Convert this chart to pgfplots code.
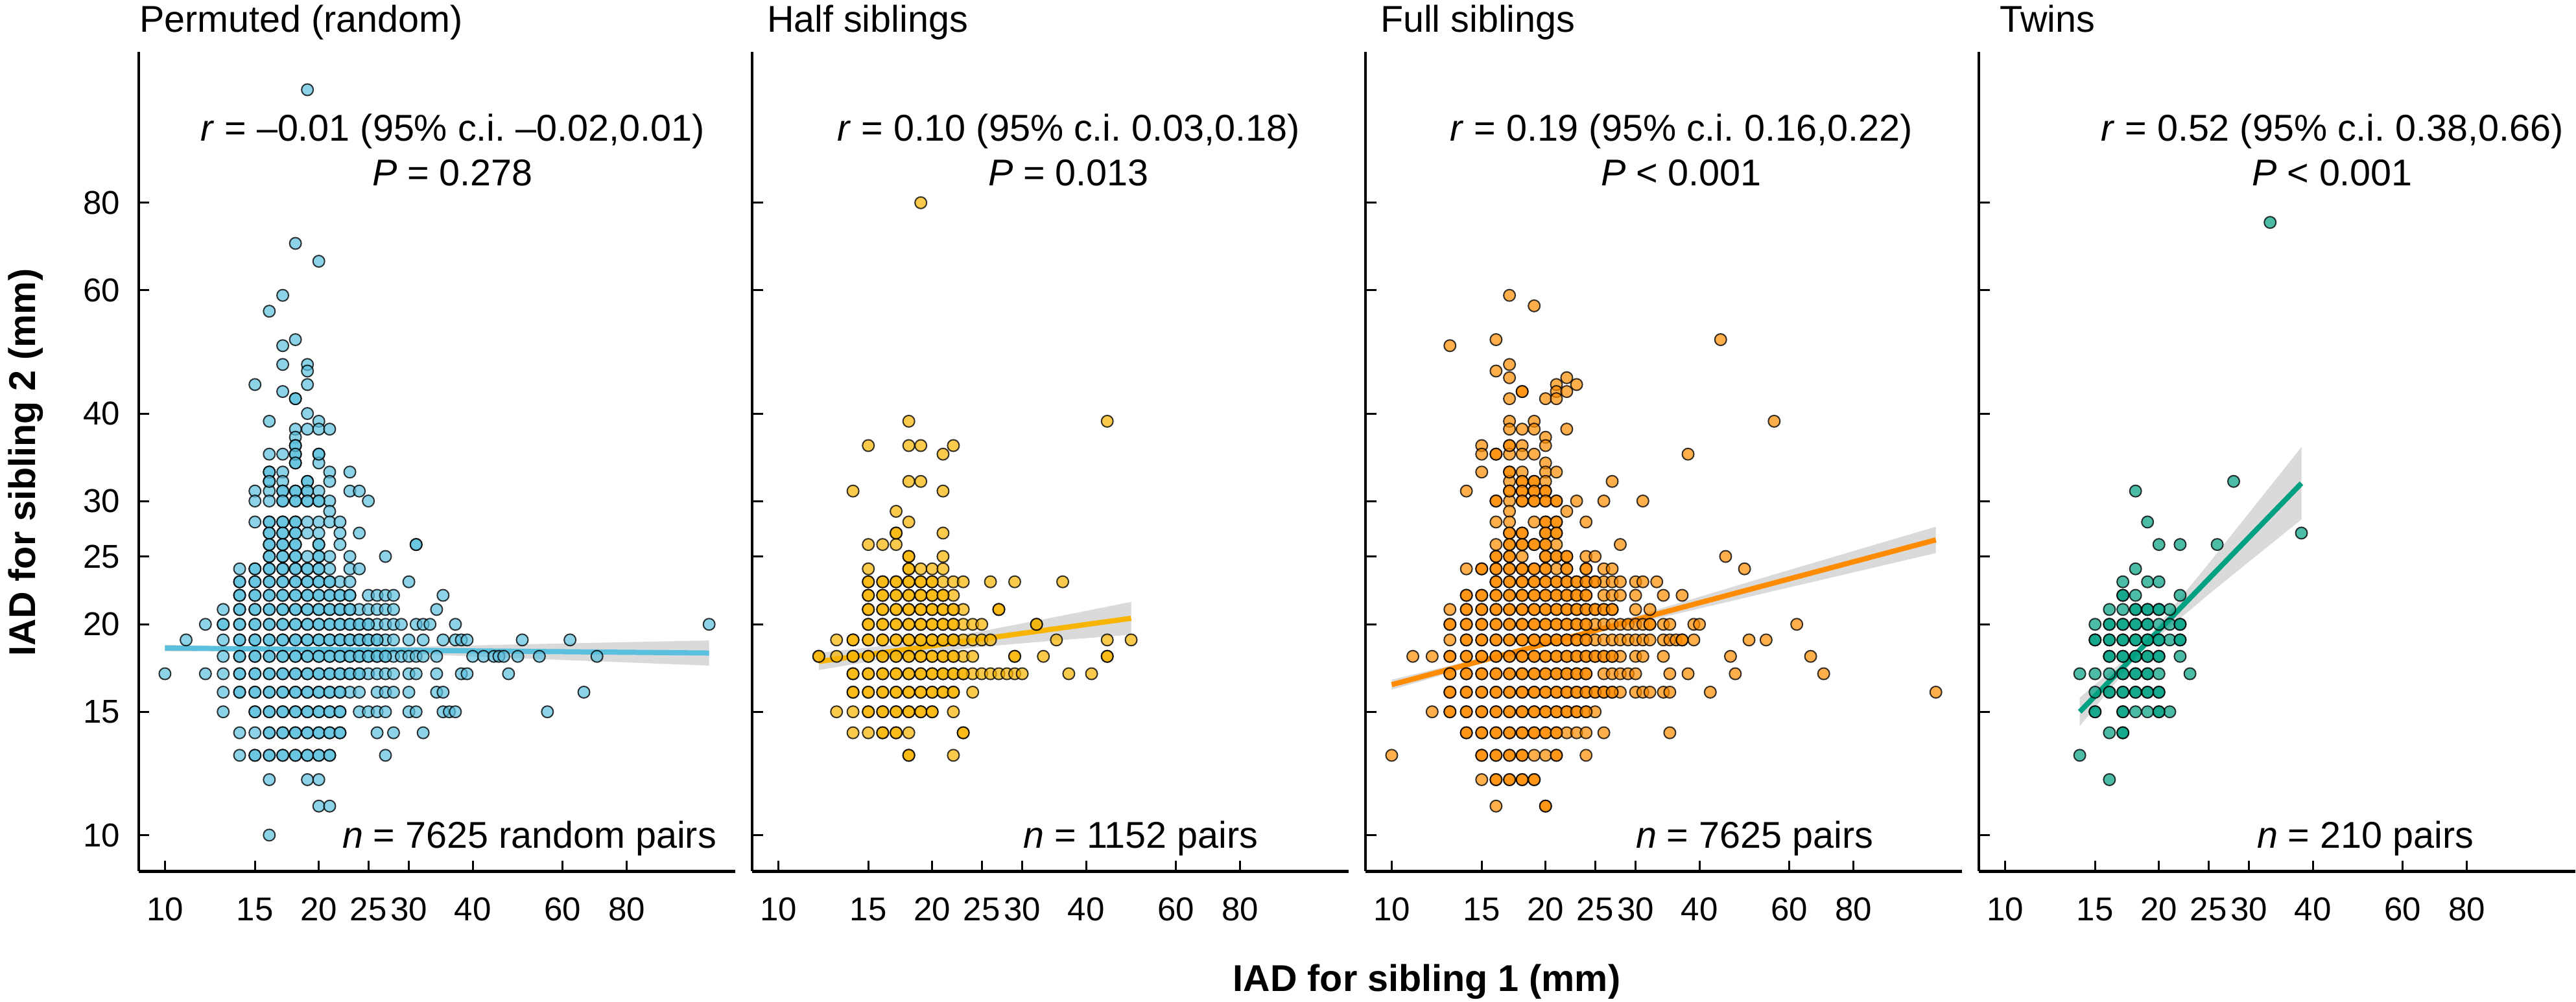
\documentclass[border=0pt]{standalone}
\usepackage{fontspec}
\setmainfont{Liberation Sans}
\usepackage{pgfplots}
\pgfplotsset{compat=1.18}
\frenchspacing

\definecolor{cyanC}{RGB}{91,192,222}
\definecolor{amberC}{RGB}{247,180,0}
\definecolor{orangeC}{RGB}{255,140,0}
\definecolor{tealC}{RGB}{0,160,130}
\definecolor{bandC}{RGB}{205,205,205}

\newcommand{\mytxt}{\fontsize{11.5}{13.8}\selectfont}

\tikzset{
  myPts/.style={only marks, mark=*, mark size=1.8pt,
    mark options={fill=#1, fill opacity=0.7, draw=black, draw opacity=0.78, line width=0.4pt}},
  myBand/.style={fill=bandC, fill opacity=0.75, draw=none},
  myLine/.style={draw=#1, line width=1.6pt},
}

\begin{document}
\begin{tikzpicture}

% ---------------- Panel 1: Permuted (random)
\begin{axis}[at={(42.8pt,40.14pt)}, anchor=south west,
    scale only axis, width=184pt, height=252.86pt,
    xmode=log, ymode=log,
    xmin=8.888, xmax=130.5, ymin=8.878, ymax=131.4,
    axis x line*=bottom, axis y line*=left,
    axis line style={line width=0.9pt},
    tick align=inside, major tick length=3.3pt,
    tick style={black, line width=0.6pt},
    xtick={10,15,20,25,30,40,60,80}, xticklabels={10,15,20,25,30,40,60,80},
    ytick={10,15,20,25,30,40,60,80}, yticklabels={10,15,20,25,30,40,60,80},
    minor xtick={}, minor ytick={},
    tick label style={font=\fontsize{10.2}{12}\selectfont},
    xticklabel style={anchor=base, yshift=-15.2pt},
    yticklabel style={anchor=east, xshift=-2.3pt}]
\addplot[myPts=cyanC] coordinates {
(19,116) (18,70) (20,66) (17,59) (16,56) (18,51) (17,50) (17,47) (19,47) (19,46) (15,44) (19,44) (17,43) (18,42) (19,40) (16,39) (20,39) (18,38) (19,38) (20,38) (21,38) (18,37) (18,36) (16,35) (17,35) (18,35) (20,35) (18,34) (20,34) (16,33) (17,33) (21,33) (23,33) (16,32) (17,32) (19,32) (21,32)
(15,31) (16,31) (17,31) (18,31) (19,31) (20,31) (23,31) (24,31)
(15,30) (16,30) (17,30) (18,30) (19,30) (20,30) (21,30) (25,30)
(21,29)
(15,28) (16,28) (17,28) (18,28) (19,28) (20,28) (21,28) (22,28)
(16,27) (17,27) (18,27) (19,27) (20,27) (22,27) (24,27)
(16,26) (17,26) (18,26) (20,26) (22,26) (31,26)
(16,25) (17,25) (18,25) (19,25) (20,25) (21,25) (23,25) (27,25)
(14,24) (15,24) (16,24) (17,24) (18,24) (19,24) (20,24) (21,24) (23,24) (24,24)
(14,23) (15,23) (16,23) (17,23) (18,23) (19,23) (20,23) (21,23) (22,23) (23,23) (30,23)
(14,22) (15,22) (16,22) (17,22) (18,22) (19,22) (20,22) (21,22) (22,22) (23,22) (25,22) (26,22) (27,22) (28,22) (35,22)
(13,21) (14,21) (15,21) (16,21) (17,21) (18,21) (19,21) (20,21) (21,21) (22,21) (23,21) (24,21) (25,21) (26,21) (27,21) (28,21) (34,21)
(12,20) (13,20) (14,20) (15,20) (16,20) (17,20) (18,20) (19,20) (20,20) (21,20) (22,20) (23,20) (24,20) (25,20) (26,20) (27,20) (28,20) (29,20) (31,20) (32,20) (33,20) (37,20) (116,20)
(11,19) (13,19) (14,19) (15,19) (16,19) (17,19) (18,19) (19,19) (20,19) (21,19) (22,19) (23,19) (24,19) (25,19) (26,19) (27,19) (28,19) (30,19) (32,19) (35,19) (37,19) (38,19) (39,19) (50,19) (62,19)
(13,18) (14,18) (15,18) (16,18) (17,18) (18,18) (19,18) (20,18) (21,18) (22,18) (23,18) (24,18) (25,18) (26,18) (27,18) (28,18) (29,18) (30,18) (31,18) (32,18) (34,18) (40,18) (42,18) (44,18) (45,18) (46,18) (49,18) (54,18) (70,18)
(10,17) (12,17) (13,17) (14,17) (15,17) (16,17) (17,17) (18,17) (19,17) (20,17) (21,17) (22,17) (23,17) (24,17) (25,17) (26,17) (27,17) (28,17) (30,17) (31,17) (34,17) (38,17) (39,17) (47,17)
(13,16) (14,16) (15,16) (16,16) (17,16) (18,16) (19,16) (20,16) (21,16) (22,16) (23,16) (24,16) (26,16) (27,16) (28,16) (30,16) (34,16) (35,16) (66,16)
(13,15) (15,15) (16,15) (17,15) (18,15) (19,15) (20,15) (21,15) (22,15) (24,15) (25,15) (26,15) (27,15) (30,15) (31,15) (35,15) (36,15) (37,15) (56,15)
(14,14) (15,14) (16,14) (17,14) (18,14) (19,14) (20,14) (21,14) (22,14) (26,14) (28,14) (32,14)
(14,13) (15,13) (16,13) (17,13) (18,13) (19,13) (20,13) (21,13) (27,13)
(16,12) (19,12) (20,12)
(20,11) (21,11)
(16,10)
};
\addplot[myPts=cyanC] coordinates {
(18,42) (18,36) (18,35) (20,35) (18,34) (16,33) (16,32) (19,32) (31,26)
(17,31) (18,31) (19,31)
(17,30) (18,30) (19,30) (20,30)
(16,28) (17,28) (18,28)
(16,27) (17,27) (18,27)
(16,26) (17,26) (18,26) (20,26)
(16,25) (17,25) (18,25) (20,25)
(15,24) (16,24) (17,24) (18,24) (19,24) (20,24)
(14,23) (15,23) (16,23) (17,23) (18,23) (19,23) (20,23) (21,23)
(14,22) (15,22) (16,22) (17,22) (18,22) (19,22) (20,22) (21,22) (22,22) (23,22)
(14,21) (15,21) (16,21) (17,21) (18,21) (19,21) (20,21) (21,21) (22,21) (23,21)
(13,20) (14,20) (15,20) (16,20) (17,20) (18,20) (19,20) (20,20) (21,20) (22,20) (23,20) (24,20) (25,20)
(14,19) (15,19) (16,19) (17,19) (18,19) (19,19) (20,19) (21,19) (22,19) (23,19) (24,19) (25,19) (26,19)
(14,18) (15,18) (16,18) (17,18) (18,18) (19,18) (20,18) (21,18) (22,18) (23,18) (24,18) (25,18) (26,18) (27,18)
(14,17) (15,17) (16,17) (17,17) (18,17) (19,17) (20,17) (21,17) (22,17) (23,17) (24,17)
(14,16) (15,16) (16,16) (17,16) (18,16) (19,16) (20,16) (21,16) (22,16)
(15,15) (16,15) (17,15) (18,15) (19,15) (20,15) (21,15) (22,15)
(16,14) (17,14) (18,14) (19,14) (20,14) (21,14) (22,14)
(15,13) (16,13) (17,13) (18,13) (19,13) (20,13) (21,13)
};
\addplot[myBand] coordinates {(10,18.70) (18,18.51) (30,18.57) (50,18.73) (116,18.97) (116,17.46) (50,17.88) (30,18.15) (18,18.34) (10,18.30)};
\addplot[myLine=cyanC] coordinates {(10,18.5) (116,18.2)};
\end{axis}

% ---------------- Panel 2: Half siblings
\begin{axis}[at={(232pt,40.14pt)}, anchor=south west,
    scale only axis, width=184pt, height=252.86pt,
    xmode=log, ymode=log,
    xmin=8.888, xmax=130.5, ymin=8.878, ymax=131.4,
    axis x line*=bottom, axis y line*=left,
    axis line style={line width=0.9pt},
    tick align=inside, major tick length=3.3pt,
    tick style={black, line width=0.6pt},
    xtick={10,15,20,25,30,40,60,80}, xticklabels={10,15,20,25,30,40,60,80},
    ytick={10,15,20,25,30,40,60,80}, yticklabels={},
    minor xtick={}, minor ytick={},
    tick label style={font=\fontsize{10.2}{12}\selectfont},
    xticklabel style={anchor=base, yshift=-15.2pt}]
\addplot[myPts=amberC] coordinates {
(19,80) (18,39) (44,39) (15,36) (18,36) (19,36) (22,36) (21,35) (18,32) (19,32) (14,31) (21,31) (17,29) (18,28) (17,27) (21,27) (15,26) (16,26) (17,26) (18,25) (21,25) (15,24) (18,24) (19,24) (20,24) (21,24)
(15,23) (16,23) (17,23) (18,23) (19,23) (20,23) (21,23) (22,23) (23,23) (26,23) (29,23) (36,23)
(15,22) (16,22) (17,22) (18,22) (19,22) (20,22) (21,22) (22,22)
(15,21) (16,21) (17,21) (18,21) (19,21) (20,21) (21,21) (22,21) (23,21) (27,21)
(15,20) (16,20) (17,20) (18,20) (19,20) (20,20) (21,20) (22,20) (23,20) (24,20) (25,20) (32,20)
(13,19) (14,19) (15,19) (16,19) (17,19) (18,19) (19,19) (20,19) (21,19) (22,19) (23,19) (24,19) (25,19) (26,19) (35,19) (44,19) (49,19)
(12,18) (13,18) (14,18) (15,18) (16,18) (17,18) (18,18) (19,18) (20,18) (21,18) (22,18) (23,18) (24,18) (29,18) (33,18) (44,18)
(14,17) (15,17) (16,17) (17,17) (18,17) (19,17) (20,17) (21,17) (22,17) (23,17) (24,17) (25,17) (26,17) (27,17) (28,17) (29,17) (30,17) (37,17) (41,17)
(14,16) (15,16) (16,16) (17,16) (18,16) (19,16) (20,16) (21,16) (22,16) (24,16)
(13,15) (14,15) (15,15) (16,15) (17,15) (18,15) (19,15) (20,15) (22,15)
(14,14) (15,14) (16,14) (17,14) (18,14) (23,14)
(18,13) (22,13)
};
\addplot[myPts=amberC] coordinates {
(17,27) (18,25) (18,24)
(15,23) (16,23) (17,23) (18,23) (19,23) (20,23)
(15,22) (16,22) (17,22) (18,22) (19,22) (20,22) (21,22)
(15,21) (16,21) (17,21) (18,21) (19,21) (20,21) (21,21) (22,21) (27,21)
(15,20) (16,20) (17,20) (18,20) (19,20) (20,20) (21,20) (22,20) (32,20)
(14,19) (15,19) (16,19) (17,19) (18,19) (19,19) (20,19) (21,19) (22,19)
(12,18) (14,18) (15,18) (16,18) (17,18) (18,18) (19,18) (20,18) (21,18) (22,18) (29,18) (44,18)
(14,17) (15,17) (16,17) (17,17) (18,17) (19,17) (20,17) (21,17) (22,17) (23,17)
(14,16) (15,16) (16,16) (17,16) (18,16) (19,16) (20,16) (21,16) (22,16)
(15,15) (16,15) (17,15) (18,15) (19,15) (20,15)
(16,14) (17,14) (23,14) (18,13)
};
\addplot[myBand] coordinates {(12,18.21) (18,18.80) (25,19.55) (35,20.50) (49,21.53) (49,19.33) (35,18.97) (25,18.58) (18,18.08) (12,17.21)};
\addplot[myLine=amberC] coordinates {(12,17.7) (49,20.4)};
\end{axis}

% ---------------- Panel 3: Full siblings
\begin{axis}[at={(421.2pt,40.14pt)}, anchor=south west,
    scale only axis, width=184pt, height=252.86pt,
    xmode=log, ymode=log,
    xmin=8.888, xmax=130.5, ymin=8.878, ymax=131.4,
    axis x line*=bottom, axis y line*=left,
    axis line style={line width=0.9pt},
    tick align=inside, major tick length=3.3pt,
    tick style={black, line width=0.6pt},
    xtick={10,15,20,25,30,40,60,80}, xticklabels={10,15,20,25,30,40,60,80},
    ytick={10,15,20,25,30,40,60,80}, yticklabels={},
    minor xtick={}, minor ytick={},
    tick label style={font=\fontsize{10.2}{12}\selectfont},
    xticklabel style={anchor=base, yshift=-15.2pt}]
\addplot[myPts=orangeC] coordinates {
(17,59) (19,57) (16,51) (13,50) (44,51) (17,47) (16,46) (17,45) (22,45) (21,44) (23,44) (18,43) (21,43) (22,43) (17,42) (20,42) (21,42) (17,39) (19,39) (56,39) (17,38) (18,38) (19,38) (22,38) (20,37) (15,36) (17,36) (18,36) (20,36) (15,35) (16,35) (17,35) (18,35) (19,35) (38,35) (20,34) (15,33) (17,33) (18,33) (20,33) (21,33) (17,32) (18,32) (19,32) (20,32) (27,32) (14,31) (17,31) (18,31) (19,31) (20,31)
(16,30) (17,30) (18,30) (19,30) (20,30) (21,30) (23,30) (26,30) (31,30)
(17,29) (22,29)
(16,28) (17,28) (19,28) (20,28) (21,28) (24,28)
(17,27) (18,27) (20,27) (21,27)
(16,26) (17,26) (18,26) (19,26) (20,26) (21,26) (28,26)
(16,25) (17,25) (18,25) (20,25) (21,25) (22,25) (24,25) (25,25) (45,25)
(14,24) (15,24) (16,24) (17,24) (18,24) (19,24) (20,24) (21,24) (22,24) (24,24) (26,24) (27,24) (49,24)
(16,23) (17,23) (18,23) (19,23) (20,23) (21,23) (22,23) (23,23) (24,23) (25,23) (26,23) (27,23) (28,23) (30,23) (31,23) (33,23)
(14,22) (15,22) (16,22) (17,22) (18,22) (19,22) (20,22) (21,22) (22,22) (23,22) (24,22) (26,22) (27,22) (28,22) (30,22) (34,22) (37,22)
(13,21) (14,21) (15,21) (16,21) (17,21) (18,21) (19,21) (20,21) (21,21) (22,21) (23,21) (24,21) (25,21) (26,21) (27,21) (30,21) (32,21)
(13,20) (14,20) (15,20) (16,20) (17,20) (18,20) (19,20) (20,20) (21,20) (22,20) (23,20) (24,20) (25,20) (26,20) (27,20) (28,20) (29,20) (30,20) (31,20) (32,20) (34,20) (35,20) (39,20) (40,20) (62,20)
(13,19) (14,19) (15,19) (16,19) (17,19) (18,19) (19,19) (20,19) (21,19) (22,19) (23,19) (24,19) (25,19) (26,19) (27,19) (28,19) (29,19) (30,19) (31,19) (32,19) (34,19) (35,19) (36,19) (37,19) (39,19) (50,19) (54,19)
(11,18) (12,18) (13,18) (14,18) (15,18) (16,18) (17,18) (18,18) (19,18) (20,18) (21,18) (22,18) (23,18) (24,18) (25,18) (26,18) (27,18) (28,18) (30,18) (31,18) (34,18) (46,18) (66,18)
(13,17) (14,17) (15,17) (16,17) (17,17) (18,17) (19,17) (20,17) (21,17) (22,17) (23,17) (24,17) (26,17) (27,17) (28,17) (29,17) (30,17) (35,17) (38,17) (47,17) (70,17)
(13,16) (14,16) (15,16) (16,16) (17,16) (18,16) (19,16) (20,16) (21,16) (22,16) (23,16) (24,16) (25,16) (26,16) (27,16) (28,16) (30,16) (31,16) (32,16) (34,16) (35,16) (42,16) (116,16)
(12,15) (13,15) (14,15) (15,15) (16,15) (17,15) (18,15) (19,15) (20,15) (21,15) (22,15) (23,15) (24,15) (25,15)
(14,14) (15,14) (16,14) (17,14) (18,14) (19,14) (20,14) (21,14) (22,14) (23,14) (24,14) (26,14) (35,14)
(10,13) (15,13) (16,13) (17,13) (18,13) (19,13) (20,13) (21,13) (24,13)
(15,12) (16,12) (17,12) (18,12) (19,12)
(16,11) (20,11)
};
\addplot[myPts=orangeC] coordinates {
(18,43) (17,36) (16,35) (17,33) (18,32) (19,32) (17,31) (18,31) (19,31) (20,31)
(16,30) (18,30) (19,30) (20,30) (21,30)
(20,28) (21,28)
(17,27) (18,27) (20,27) (21,27)
(17,26) (18,26) (19,26) (20,26)
(16,25) (17,25) (20,25) (21,25) (22,25)
(15,24) (16,24) (17,24) (18,24) (19,24) (20,24) (22,24) (24,24)
(16,23) (17,23) (18,23) (19,23) (20,23) (21,23) (22,23) (23,23) (24,23) (25,23)
(14,22) (15,22) (16,22) (17,22) (18,22) (19,22) (20,22) (21,22) (22,22) (23,22) (24,22)
(14,21) (15,21) (16,21) (17,21) (18,21) (19,21) (20,21) (21,21) (22,21) (23,21) (24,21) (25,21) (26,21) (27,21)
(13,20) (14,20) (15,20) (16,20) (17,20) (18,20) (19,20) (20,20) (21,20) (22,20) (23,20) (24,20) (32,20)
(14,19) (15,19) (16,19) (17,19) (18,19) (19,19) (20,19) (21,19) (22,19) (23,19) (24,19) (37,19)
(13,18) (14,18) (15,18) (16,18) (17,18) (18,18) (19,18) (20,18) (21,18) (22,18) (23,18) (24,18) (25,18) (26,18) (27,18)
(13,17) (14,17) (15,17) (16,17) (17,17) (18,17) (19,17) (20,17) (21,17) (22,17) (23,17) (24,17)
(13,16) (14,16) (15,16) (16,16) (17,16) (18,16) (19,16) (20,16) (21,16) (22,16) (23,16) (24,16) (25,16) (26,16) (27,16)
(13,15) (14,15) (15,15) (16,15) (17,15) (18,15) (19,15) (20,15) (21,15) (22,15) (23,15) (24,15)
(14,14) (15,14) (16,14) (17,14) (18,14) (19,14) (20,14) (21,14)
(15,13) (16,13) (17,13) (18,13) (21,13)
(16,12) (17,12) (18,12) (19,12)
(20,11)
};
\addplot[myBand] coordinates {(10,16.67) (19,18.66) (30,20.55) (55,23.47) (116,27.57) (116,25.28) (55,22.25) (30,20.05) (19,18.49) (10,16.13)};
\addplot[myLine=orangeC] coordinates {(10,16.4) (116,26.4)};
\end{axis}

% ---------------- Panel 4: Twins
\begin{axis}[at={(610.4pt,40.14pt)}, anchor=south west,
    scale only axis, width=184pt, height=252.86pt,
    xmode=log, ymode=log,
    xmin=8.888, xmax=130.5, ymin=8.878, ymax=131.4,
    axis x line*=bottom, axis y line*=left,
    axis line style={line width=0.9pt},
    tick align=inside, major tick length=3.3pt,
    tick style={black, line width=0.6pt},
    xtick={10,15,20,25,30,40,60,80}, xticklabels={10,15,20,25,30,40,60,80},
    ytick={10,15,20,25,30,40,60,80}, yticklabels={},
    minor xtick={}, minor ytick={},
    tick label style={font=\fontsize{10.2}{12}\selectfont},
    xticklabel style={anchor=base, yshift=-15.2pt}]
\addplot[myPts=tealC] coordinates {
(33,75) (28,32) (18,31) (38,27) (19,28) (20,26) (22,26) (26,26) (18,24) (17,23) (19,23) (20,23) (17,22) (18,22) (22,22)
(16,21) (17,21) (18,21) (19,21) (20,21) (21,21)
(15,20) (16,20) (17,20) (18,20) (19,20) (20,20) (21,20) (22,20)
(15,19) (16,19) (17,19) (18,19) (19,19) (20,19) (21,19) (22,19)
(16,18) (17,18) (18,18) (19,18) (20,18) (22,18)
(14,17) (15,17) (16,17) (17,17) (18,17) (19,17) (20,17) (23,17)
(15,16) (16,16) (17,16) (18,16) (19,16) (20,16)
(15,15) (17,15) (18,15) (19,15) (20,15) (21,15)
(16,14) (17,14) (14,13) (16,12)
};
\addplot[myPts=tealC] coordinates {
(17,22) (18,21) (19,21) (20,21) (16,20) (17,20) (18,20) (19,20) (22,20) (15,19) (16,19) (17,19) (18,19) (19,19) (20,19) (22,19) (16,18) (17,18) (18,18) (19,18) (20,18) (17,17) (18,17) (19,17) (16,16) (17,16) (18,16) (19,16) (20,16) (15,15) (17,15) (20,15) (17,14)
};
\addplot[myBand] coordinates {(14,15.72) (18.5,18.67) (25,24.40) (30,28.84) (38,35.82) (38,28.23) (30,24.57) (25,22.06) (18.5,18.33) (14,14.31)};
\addplot[myLine=tealC] coordinates {(14,15.0) (38,31.8)};
\end{axis}

% ---------------- Texts
\node[anchor=base west, inner sep=0pt, font=\mytxt] at (42.9pt,299.1pt) {Permuted (random)};
\node[anchor=base west, inner sep=0pt, font=\mytxt] at (236.4pt,299.1pt) {Half siblings};
\node[anchor=base west, inner sep=0pt, font=\mytxt] at (425.6pt,299.1pt) {Full siblings};
\node[anchor=base west, inner sep=0pt, font=\mytxt] at (616.6pt,299.1pt) {Twins};

\node[anchor=base, inner sep=0pt, font=\mytxt] at (139.6pt,265.6pt) {\textit{r} = –0.01 (95\% c.i.\ –0.02,0.01)};
\node[anchor=base, inner sep=0pt, font=\mytxt] at (139.6pt,251.8pt) {\textit{P} = 0.278};
\node[anchor=base, inner sep=0pt, font=\mytxt] at (329.6pt,265.6pt) {\textit{r} = 0.10 (95\% c.i.\ 0.03,0.18)};
\node[anchor=base, inner sep=0pt, font=\mytxt] at (329.6pt,251.8pt) {\textit{P} = 0.013};
\node[anchor=base, inner sep=0pt, font=\mytxt] at (518.6pt,265.6pt) {\textit{r} = 0.19 (95\% c.i.\ 0.16,0.22)};
\node[anchor=base, inner sep=0pt, font=\mytxt] at (518.6pt,251.8pt) {\textit{P} < 0.001};
\node[anchor=base, inner sep=0pt, font=\mytxt] at (719.4pt,265.6pt) {\textit{r} = 0.52 (95\% c.i.\ 0.38,0.66)};
\node[anchor=base, inner sep=0pt, font=\mytxt] at (719.4pt,251.8pt) {\textit{P} < 0.001};

\node[anchor=base east, inner sep=0pt, font=\mytxt] at (221.2pt,47.4pt) {\textit{n} = 7625 random pairs};
\node[anchor=base east, inner sep=0pt, font=\mytxt] at (388.3pt,47.4pt) {\textit{n} = 1152 pairs};
\node[anchor=base east, inner sep=0pt, font=\mytxt] at (578.0pt,47.4pt) {\textit{n} = 7625 pairs};
\node[anchor=base east, inner sep=0pt, font=\mytxt] at (763.2pt,47.4pt) {\textit{n} = 210 pairs};

\node[anchor=base, inner sep=0pt, rotate=90, font=\mytxt\bfseries] at (10.8pt,166.3pt) {IAD for sibling 2 (mm)};
\node[anchor=base, inner sep=0pt, font=\mytxt\bfseries] at (440.1pt,3.1pt) {IAD for sibling 1 (mm)};

\pgfresetboundingbox
\path[use as bounding box] (0,0) rectangle (794.6pt,309pt);
\end{tikzpicture}
\end{document}
